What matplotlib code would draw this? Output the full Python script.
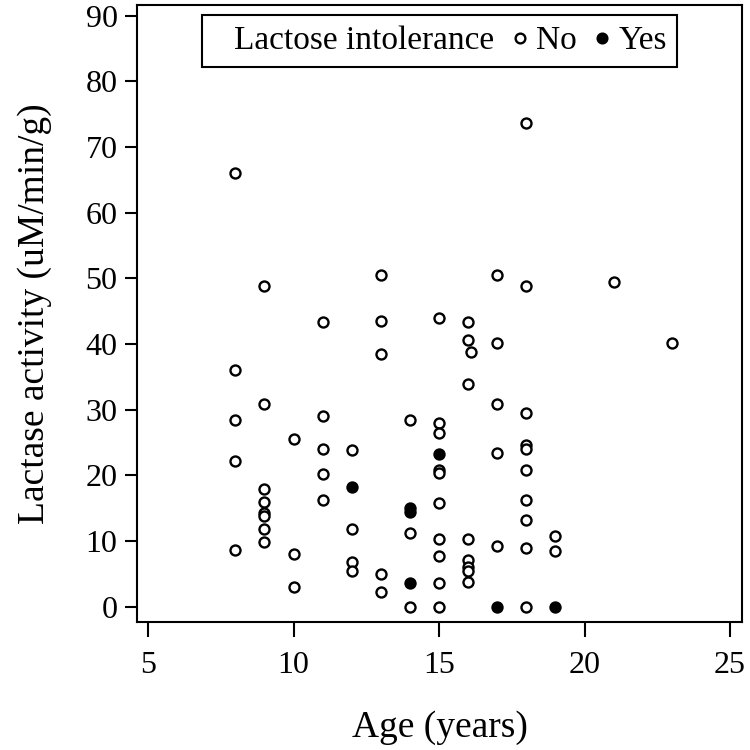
import matplotlib
matplotlib.use("Agg")
import matplotlib.pyplot as plt
from matplotlib.lines import Line2D

# 数据: 年龄与乳糖酶活性
age_no = [8, 8, 8, 8, 8,
          9, 9, 9, 9, 9, 9, 9, 9,
          10, 10, 10,
          11, 11, 11, 11, 11,
          12, 12, 12, 12,
          13, 13, 13, 13, 13,
          14, 14, 14,
          15, 15, 15, 15, 15, 15, 15, 15, 15, 15,
          16, 16, 16.1, 16, 16, 16, 16, 16, 16,
          17, 17, 17, 17, 17,
          18, 18, 18, 18, 18, 18, 18, 18, 18, 18,
          19, 19,
          21, 23]
act_no = [66.1, 36.1, 28.4, 22.2, 8.7,
          48.8, 30.8, 18.0, 15.9, 14.3, 13.9, 11.9, 9.8,
          25.5, 8.1, 3.0,
          43.4, 29.0, 24.0, 20.2, 16.2,
          23.9, 11.9, 6.8, 5.5,
          50.5, 43.5, 38.5, 5.0, 2.2,
          28.5, 11.3, 0.0,
          44.0, 28.0, 26.4, 20.9, 20.4, 15.8, 10.3, 7.8, 3.7, 0.0,
          43.3, 40.6, 38.8, 33.9, 10.4, 7.2, 6.1, 5.4, 3.8,
          50.5, 40.1, 30.9, 23.4, 9.2,
          73.7, 48.9, 29.5, 24.7, 24.0, 20.8, 16.2, 13.2, 9.0, 0.0,
          10.8, 8.5,
          49.4, 40.2]

age_yes = [12, 14, 14, 14, 15, 17, 19]
act_yes = [18.2, 15.0, 14.4, 3.7, 23.2, 0.0, 0.0]

x_ticks = [5, 10, 15, 20, 25]
y_ticks = [0, 10, 20, 30, 40, 50, 60, 70, 80, 90]


def make_plot(out_file="out.png"):
    plt.rcParams['font.family'] = ['Liberation Serif', 'DejaVu Serif']

    fig = plt.figure(figsize=(7.5, 7.5), dpi=100)
    ax = fig.add_axes([0.1827, 0.1707, 0.8066, 0.8226])

    # 散点: 空心 = 无乳糖不耐, 实心 = 有
    ax.scatter(age_no, act_no, s=52, facecolors='white', edgecolors='black',
               linewidths=1.7, zorder=3)
    ax.scatter(age_yes, act_yes, s=52, facecolors='black', edgecolors='black',
               linewidths=1.7, zorder=4)

    ax.set_xlim(4.62, 25.41)
    ax.set_ylim(-2.3, 91.6)
    ax.set_xticks(x_ticks)
    ax.set_yticks(y_ticks)
    ax.tick_params(axis='both', direction='out', width=1.5,
                   labelsize=23, color='black')
    ax.tick_params(axis='x', length=11, pad=10)
    ax.tick_params(axis='y', length=9, pad=5)

    for sp in ax.spines.values():
        sp.set_linewidth(1.5)

    ax.set_xlabel('Age (years)', fontsize=27, labelpad=22)
    ax.set_ylabel('Lactase activity (uM/min/g)', fontsize=27, labelpad=24)

    # 图例: 标题放在左边同一行
    blank = Line2D([], [], linestyle='none', marker='none')
    h_no = Line2D([], [], linestyle='none', marker='o', markersize=7,
                  markerfacecolor='white', markeredgecolor='black',
                  markeredgewidth=1.7)
    h_yes = Line2D([], [], linestyle='none', marker='o', markersize=7,
                   markerfacecolor='black', markeredgecolor='black',
                   markeredgewidth=1.7)
    leg = ax.legend([blank, h_no, h_yes], ['Lactose intolerance', 'No', 'Yes'],
                    loc='upper center', ncol=3, fontsize=24, frameon=True,
                    fancybox=False, edgecolor='black', framealpha=1,
                    handlelength=0.35, handletextpad=0.3, columnspacing=0.6,
                    borderpad=0.32, borderaxespad=0.3)
    leg.get_frame().set_linewidth(1.5)

    fig.savefig(out_file, dpi=100)


if __name__ == "__main__":
    make_plot()
